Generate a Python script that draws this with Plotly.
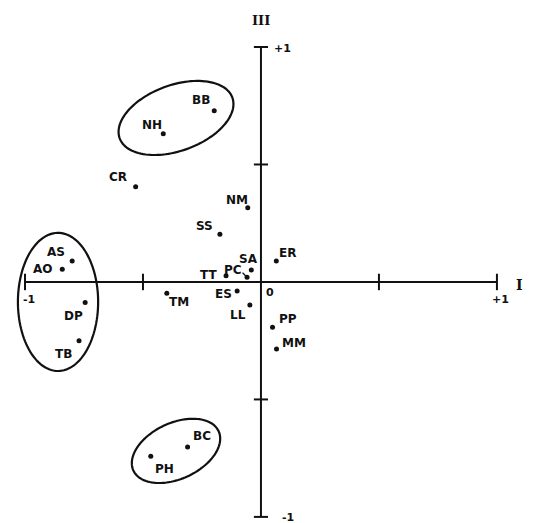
import numpy as np
import plotly.graph_objects as go

# correspondence analysis, axes I (horizontal) and III (vertical)
LABELS = ["BB", "NH", "CR", "NM", "SS", "ER", "SA", "PC", "TT", "ES",
          "LL", "PP", "MM", "TM", "AS", "AO", "DP", "TB", "BC", "PH"]
AXIS_I = [-0.198, -0.414, -0.531, -0.056, -0.174, 0.065, -0.041, -0.059, -0.148, -0.101,
          -0.047, 0.049, 0.066, -0.399, -0.800, -0.842, -0.745, -0.771, -0.311, -0.467]
AXIS_III = [0.729, 0.631, 0.405, 0.316, 0.203, 0.089, 0.051, 0.020, 0.026, -0.038,
            -0.098, -0.193, -0.285, -0.048, 0.089, 0.054, -0.087, -0.250, -0.702, -0.742]

# groups circled on the plot: centre x, centre y, semi-axis a, semi-axis b, tilt (deg)
GROUPS = [
    (-0.360, 0.698, 0.254, 0.140, 20),
    (-0.860, -0.085, 0.170, 0.294, 0),
    (-0.360, -0.719, 0.199, 0.119, 25),
]

# label placement relative to its point (pixels, +y down)
LABEL_OFFSETS = {
    "BB": (-13, -11), "NH": (-11, -9), "CR": (-18, -10), "NM": (-11, -8),
    "SS": (-15, -8), "ER": (11, -8), "SA": (-3, -11), "PC": (-14, -7),
    "TT": (-18, -1), "ES": (-14, 3), "LL": (-12, 10), "PP": (15, -8),
    "MM": (17, -6), "TM": (12, 9), "AS": (-16, -9), "AO": (-19, 0),
    "DP": (-12, 14), "TB": (-16, 13), "BC": (14, -11), "PH": (14, 13),
}

INK = "#111111"
FONT = dict(family="DejaVu Sans", size=12, color=INK, weight="bold")

fig = go.Figure(go.Scatter(
    x=AXIS_I, y=AXIS_III, mode="markers",
    marker=dict(size=5, color=INK), hoverinfo="text", text=LABELS,
))

# axes with end and half ticks
line = dict(color=INK, width=2)
fig.add_shape(type="line", x0=-1, x1=1, y0=0, y1=0, line=line)
fig.add_shape(type="line", x0=0, x1=0, y0=-1, y1=1, line=line)
for t in (-1, -0.5, 0.5, 1):
    fig.add_shape(type="line", x0=t, x1=t, y0=-0.035, y1=0.035, line=line)
    fig.add_shape(type="line", x0=-0.03, x1=0.03, y0=t, y1=t, line=line)

# group ellipses
theta = np.linspace(0, 2 * np.pi, 120)
for cx, cy, a, b, ang in GROUPS:
    r = np.deg2rad(ang)
    ex = cx + a * np.cos(theta) * np.cos(r) - b * np.sin(theta) * np.sin(r)
    ey = cy + a * np.cos(theta) * np.sin(r) + b * np.sin(theta) * np.cos(r)
    path = "M " + " L ".join(f"{x:.4f},{y:.4f}" for x, y in zip(ex, ey)) + " Z"
    fig.add_shape(type="path", path=path, line=dict(color=INK, width=2.2))

for name, x, y in zip(LABELS, AXIS_I, AXIS_III):
    dx, dy = LABEL_OFFSETS[name]
    fig.add_annotation(x=x, y=y, text=name, showarrow=False,
                       xshift=dx, yshift=-dy, font=FONT)

# little hook pointing PC to its point
fig.add_annotation(x=-0.059, y=0.020, ax=-6, ay=-6, showarrow=True,
                   arrowhead=0, arrowwidth=1.2, arrowcolor=INK, text="")

small = dict(family="DejaVu Sans", size=11, color=INK, weight="bold")
fig.add_annotation(x=-1, y=0, text="-1", showarrow=False, xshift=4, yshift=-18, font=small)
fig.add_annotation(x=1, y=0, text="+1", showarrow=False, xshift=4, yshift=-18, font=small)
fig.add_annotation(x=0, y=1, text="+1", showarrow=False, xshift=22, yshift=-1, font=small)
fig.add_annotation(x=0, y=-1, text="-1", showarrow=False, xshift=27, yshift=-1, font=small)
fig.add_annotation(x=0, y=0, text="0", showarrow=False, xshift=9, yshift=-11, font=small)
fig.add_annotation(x=1, y=0, text="I", showarrow=False, xshift=23, yshift=-3,
                   font=dict(family="DejaVu Serif", size=14, color=INK, weight="bold"))
fig.add_annotation(x=0, y=1, text="III", showarrow=False, xshift=0, yshift=27,
                   font=dict(family="DejaVu Serif", size=13, color=INK, weight="bold"))

# the page adds an 8px body margin, so the ranges are shifted to compensate
fig.update_xaxes(range=[-1.072, 1.191], visible=False, fixedrange=True)
fig.update_yaxes(range=[-1.06, 1.166], visible=False, fixedrange=True)
fig.update_layout(
    width=534, height=523, margin=dict(l=0, r=0, t=0, b=0),
    paper_bgcolor="white", plot_bgcolor="white", showlegend=False,
)

fig.write_html("out.html")
